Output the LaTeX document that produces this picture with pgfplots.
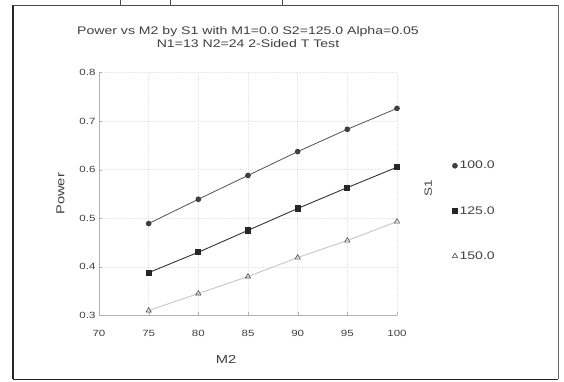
\documentclass[border=0pt]{standalone}
\usepackage{pgfplots}
\pgfplotsset{compat=1.18}
\usepackage{fontspec}
\setmainfont{Liberation Sans}[FakeStretch=1.28]
\definecolor{txt}{gray}{0.25}
\begin{document}
\begin{tikzpicture}
\fill[white] (0pt,0pt) rectangle (564pt,381pt);
% outer frame of the scanned figure
\draw[black!85,line width=1.6pt] (13pt,2pt) -- (13pt,376pt);
\draw[black!85,line width=1.2pt] (13pt,2pt) -- (558pt,2pt);
\draw[black!60,line width=0.8pt] (558pt,2pt) -- (558pt,376pt);
\draw[black!70,line width=0.8pt] (13pt,376pt) -- (558pt,376pt);
\draw[black!70,line width=0.8pt] (120pt,376pt) -- (120pt,381pt);
\draw[black!70,line width=0.8pt] (170pt,376pt) -- (170pt,381pt);
\draw[black!70,line width=0.8pt] (282pt,376pt) -- (282pt,381pt);
\begin{axis}[
  at={(99pt,66pt)}, anchor=south west,
  scale only axis, width=298pt, height=243pt,
  xmin=70, xmax=100, ymin=0.3, ymax=0.8,
  xtick={70,75,...,100}, ytick={0.3,0.4,...,0.8},
  axis x line*=bottom, axis y line*=left,
  axis line style={gray!60, line width=0.6pt},
  /pgf/number format/assume math mode=true,
  yticklabel style={/pgf/number format/fixed, /pgf/number format/fixed zerofill, /pgf/number format/precision=1, font=\fontsize{9}{11}\selectfont, text=txt},
  xticklabel style={font=\fontsize{9}{11}\selectfont, text=txt, yshift=-11pt},
  major tick length=3pt, tick style={gray!60},
  grid=major, grid style={gray!18, line width=0.5pt, densely dotted},
  title style={font=\fontsize{11}{13}\selectfont, text=txt, align=center, yshift=15pt},
  title={Power vs M2 by S1 with M1=0.0 S2=125.0 Alpha=0.05\\N1=13 N2=24 2-Sided T Test},
  xlabel={M2}, ylabel={Power},
  label style={font=\fontsize{11.5}{13}\selectfont, text=txt},
  xlabel style={yshift=-12pt, xshift=-22pt},
  ylabel style={yshift=8pt},
  clip=false,
  legend style={at={(1.175,0.652)}, anchor=north west, draw=none, fill=none,
    font=\fontsize{11}{12}\selectfont, text=txt, row sep=32pt,
    /tikz/every even column/.append style={column sep=4pt}},
  legend cell align=left,
  legend image code/.code={\draw[#1,only marks] plot coordinates {(0.1cm,0cm)};},
]
\addplot[gray!65!black, line width=0.8pt, mark=*, mark size=2.4pt,
  mark options={fill=black!75, draw=black!75}] coordinates {
  (75,0.489) (80,0.539) (85,0.588) (90,0.637) (95,0.683) (100,0.726)};
\addlegendentry{100.0}
\addplot[black!80, line width=0.9pt, mark=square*, mark size=2.6pt,
  mark options={fill=black!85, draw=black!85}] coordinates {
  (75,0.388) (80,0.430) (85,0.475) (90,0.520) (95,0.563) (100,0.605)};
\addlegendentry{125.0}
\addplot[gray!45, line width=0.9pt, mark=triangle, mark size=3pt,
  mark options={draw=black!70, fill=white, line width=0.6pt}] coordinates {
  (75,0.310) (80,0.345) (85,0.380) (90,0.419) (95,0.454) (100,0.493)};
\addlegendentry{150.0}
\node[rotate=90, font=\fontsize{10.5}{12}\selectfont, text=txt] at (rel axis cs:1.105,0.523) {S1};
\end{axis}
\end{tikzpicture}
\end{document}
